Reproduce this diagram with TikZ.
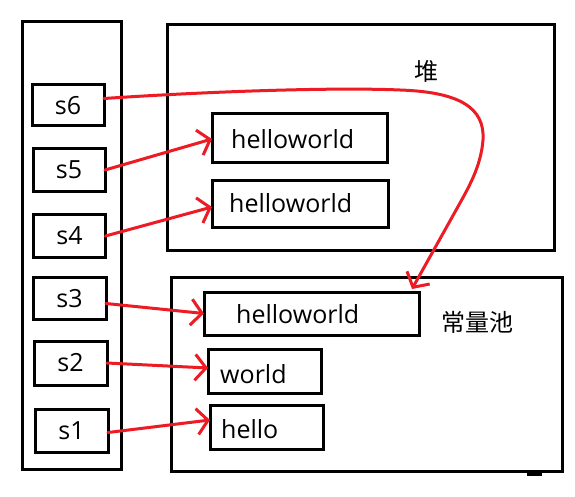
\documentclass[tikz,border=0pt]{standalone}
\usepackage{fontspec}
\setmainfont{Open Sans}
\newfontfamily\cjk{Noto Sans CJK SC}
\usetikzlibrary{arrows.meta}
\definecolor{pen}{RGB}{237,28,36}
\tikzset{
  box/.style={draw=black, line width=3pt, inner sep=0pt, outer sep=0pt},
  txt/.style={anchor=base west, inner sep=0pt, font=\fontsize{25}{28}\selectfont},
  lbl/.style={font=\fontsize{25}{28}\selectfont},
  cjklbl/.style={inner sep=0pt, font=\cjk\fontsize{24}{28}\selectfont},
  ptr/.style={draw=pen, line width=3pt, line cap=round, line join=round,
    -{Straight Barb[length=11pt, width=26pt, line width=3pt]}},
}
\begin{document}
\begin{tikzpicture}[x=1pt, y=-1pt]
\useasboundingbox[fill=white] (0,0) rectangle (575,497);
% stack
\node[box, minimum width=99pt, minimum height=447pt] (stack) at (71.5,245.5) {};
\node[box, lbl, minimum width=72pt, minimum height=41pt] (s6) at (68,105.5) {s6};
\node[box, lbl, minimum width=72pt, minimum height=42pt] (s5) at (69,170) {s5};
\node[box, lbl, minimum width=72pt, minimum height=43pt] (s4) at (69.5,236) {s4};
\node[box, lbl, minimum width=73pt, minimum height=42pt] (s3) at (69.5,298.5) {s3};
\node[box, lbl, minimum width=73pt, minimum height=44pt] (s2) at (70.5,363) {s2};
\node[box, lbl, minimum width=73pt, minimum height=43pt] (s1) at (71.5,430.5) {s1};
% heap
\node[box, minimum width=387pt, minimum height=225pt] (heap) at (360.5,137.5) {};
\node[cjklbl] (heaplbl) at (426,71) {堆};
\node[box, minimum width=175pt, minimum height=49pt] (hw1) at (299.5,138.5) {};
\node[box, minimum width=176pt, minimum height=46pt] (hw2) at (300,204) {};
\node[txt] (hw1t) at (231,149) {helloworld};
\node[txt] (hw2t) at (229,212) {helloworld};
% constant pool
\node[box, minimum width=391pt, minimum height=194pt] (pool) at (366.5,374) {};
\node[cjklbl] (poollbl) at (477,322) {常量池};
\node[box, minimum width=215pt, minimum height=43pt] (phw) at (311.5,313.5) {};
\node[box, minimum width=113pt, minimum height=44pt] (world) at (264.5,371) {};
\node[box, minimum width=113pt, minimum height=44pt] (hello) at (266.5,427) {};
\node[txt] (phwt) at (236,323) {helloworld};
\node[txt] (worldt) at (220,383) {world};
\node[txt] (hellot) at (221,438) {hello};
\node[fill=black, inner sep=0pt, minimum width=15pt, minimum height=6pt] (mark) at (534.5,473) {};
% pointers
\coordinate (c6) at ([yshift=7pt]s6.east);
\coordinate (c6a) at (400,90);
\coordinate (c6b) at (483,140);
\coordinate (c6c) at (460,203);
\coordinate (t6) at (412,289);
\draw[ptr] (c6) .. controls (200,92) and (330,87) .. (c6a)
  .. controls (460,92) and (485,108) .. (c6b)
  .. controls (481,165) and (470,185) .. (c6c) -- (t6);
\draw[ptr] (s5.east) -- ([yshift=-0.5pt]hw1.west);
\draw[ptr] (s4.east) -- ([yshift=-3pt]hw2.west);
\draw[ptr] ([yshift=-5pt]s3.east) -- (phw.west);
\draw[ptr] (s2.east) -- ([yshift=3pt]world.west);
\draw[ptr] ([yshift=-2pt]s1.east) -- ([yshift=7pt]hello.west);
\end{tikzpicture}
\end{document}
